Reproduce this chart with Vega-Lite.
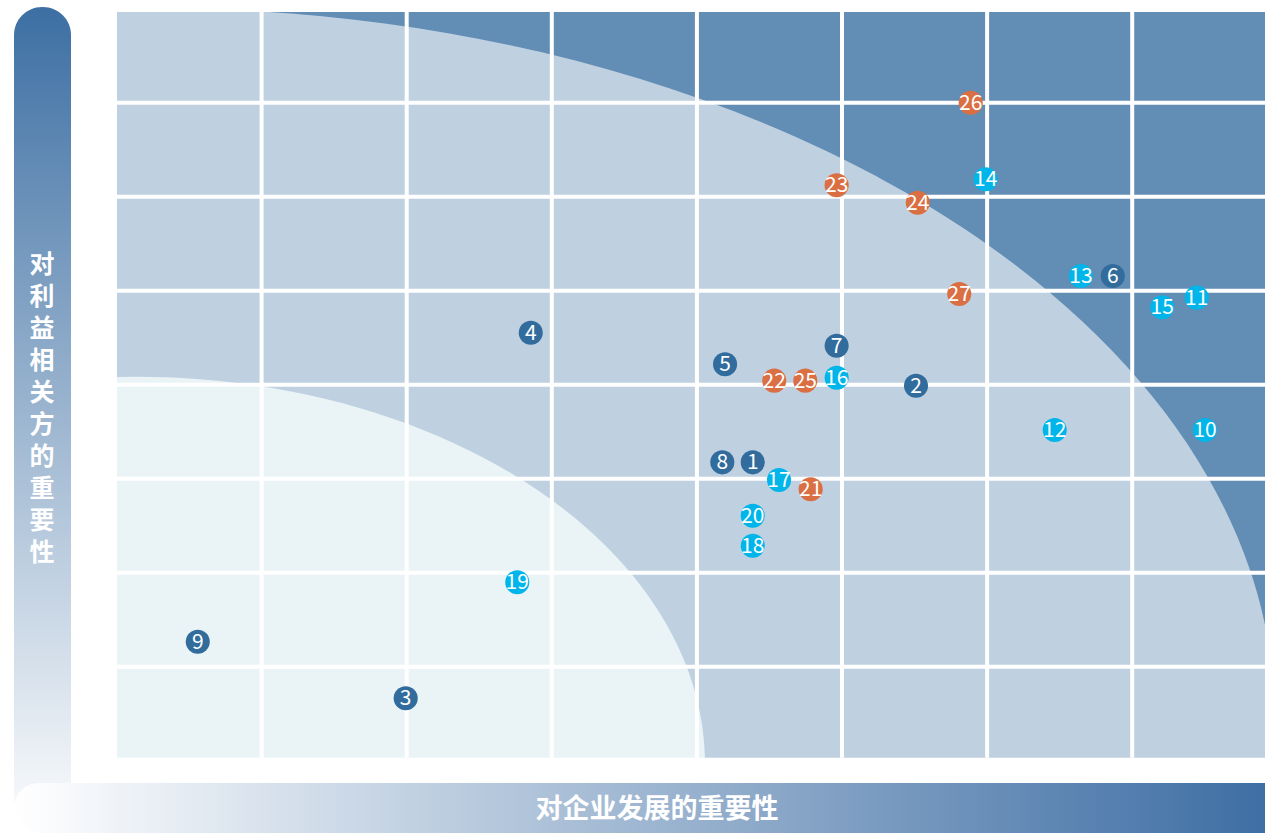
{
  "$schema": "https://vega.github.io/schema/vega-lite/v6.json",
  "width": 1265,
  "height": 833,
  "autosize": {"type": "none"},
  "padding": 0,
  "background": "white",
  "config": {"view": {"stroke": null}},
  "layer": [
    {
      "data": {"values": [{}]},
      "mark": {"type": "rect", "color": "#628db4"},
      "encoding": {
        "x": {"datum": 0.0034, "type": "quantitative", "scale": {"domain": [-0.8029, 7.9152], "nice": false, "zero": false}, "axis": null},
        "x2": {"datum": 8.3},
        "y": {"datum": 0.032, "type": "quantitative", "scale": {"domain": [-0.7692, 8.0926], "nice": false, "zero": false}, "axis": null},
        "y2": {"datum": 7.965}
      }
    },
    {
      "data": {"values": [{}]},
      "mark": {
        "type": "point", "filled": true, "opacity": 1, "color": "#bfd0e0", "strokeWidth": 0,
        "size": 5062500,
        "shape": "M-1,0C-1,-0.3495,-0.5523,-0.6329,0,-0.6329C0.5523,-0.6329,1,-0.3495,1,0C1,0.3495,0.5523,0.6329,0,0.6329C-0.5523,0.6329,-1,0.3495,-1,0Z"
      },
      "encoding": {"x": {"datum": 0.2309, "type": "quantitative"}, "y": {"datum": 0.433, "type": "quantitative"}}
    },
    {
      "data": {"values": [{}]},
      "mark": {
        "type": "point", "filled": true, "opacity": 1, "color": "#eaf4f6", "strokeWidth": 0,
        "size": 1299600,
        "shape": "M-1,0C-1,-0.3763,-0.5523,-0.6813,0,-0.6813C0.5523,-0.6813,1,-0.3763,1,0C1,0.3763,0.5523,0.6813,0,0.6813C-0.5523,0.6813,-1,0.3763,-1,0Z"
      },
      "encoding": {"x": {"datum": 0.1275, "type": "quantitative"}, "y": {"datum": -0.0457, "type": "quantitative"}}
    },
    {
      "data": {"values": [{}]},
      "mark": {"type": "rect", "color": "white"},
      "encoding": {"x": {"datum": -0.9, "type": "quantitative"}, "x2": {"datum": 0.0034}, "y": {"datum": -1, "type": "quantitative"}, "y2": {"datum": 8.3}}
    },
    {
      "data": {"values": [{}]},
      "mark": {"type": "rect", "color": "white"},
      "encoding": {"x": {"datum": -0.9, "type": "quantitative"}, "x2": {"datum": 8.3}, "y": {"datum": 7.965, "type": "quantitative"}, "y2": {"datum": 8.3}}
    },
    {
      "data": {"values": [{}]},
      "mark": {"type": "rect", "color": "white"},
      "encoding": {"x": {"datum": -0.9, "type": "quantitative"}, "x2": {"datum": 8.3}, "y": {"datum": -1, "type": "quantitative"}, "y2": {"datum": 0.032}}
    },
    {
      "data": {"values": [{"g": 1}, {"g": 2}, {"g": 3}, {"g": 4}, {"g": 5}, {"g": 6}, {"g": 7}]},
      "mark": {"type": "rule", "color": "white", "strokeWidth": 4},
      "encoding": {
        "x": {"field": "g", "type": "quantitative"},
        "y": {"datum": 0.032, "type": "quantitative"}, "y2": {"datum": 7.985}
      }
    },
    {
      "data": {"values": [{"g": 1}, {"g": 2}, {"g": 3}, {"g": 4}, {"g": 5}, {"g": 6}, {"g": 7}]},
      "mark": {"type": "rule", "color": "white", "strokeWidth": 4},
      "encoding": {
        "y": {"field": "g", "type": "quantitative"},
        "x": {"datum": 0.0034, "type": "quantitative"}, "x2": {"datum": 8.3}
      }
    },
    {
      "data": {
        "values": [
          {"id": 1, "group": "A", "dev": 4.385, "stake": 3.174},
          {"id": 2, "group": "A", "dev": 5.51, "stake": 3.989},
          {"id": 3, "group": "A", "dev": 1.993, "stake": 0.664},
          {"id": 4, "group": "A", "dev": 2.855, "stake": 4.553},
          {"id": 5, "group": "A", "dev": 4.194, "stake": 4.217},
          {"id": 6, "group": "A", "dev": 6.866, "stake": 5.156},
          {"id": 7, "group": "A", "dev": 4.963, "stake": 4.415},
          {"id": 8, "group": "A", "dev": 4.175, "stake": 3.174},
          {"id": 9, "group": "A", "dev": 0.56, "stake": 1.266},
          {"id": 10, "group": "B", "dev": 7.502, "stake": 3.518},
          {"id": 11, "group": "B", "dev": 7.445, "stake": 4.926},
          {"id": 12, "group": "B", "dev": 6.466, "stake": 3.518},
          {"id": 13, "group": "B", "dev": 6.647, "stake": 5.156},
          {"id": 14, "group": "B", "dev": 5.99, "stake": 6.185},
          {"id": 15, "group": "B", "dev": 7.207, "stake": 4.823},
          {"id": 16, "group": "B", "dev": 4.963, "stake": 4.074},
          {"id": 17, "group": "B", "dev": 4.566, "stake": 2.986},
          {"id": 18, "group": "B", "dev": 4.385, "stake": 2.287},
          {"id": 19, "group": "B", "dev": 2.762, "stake": 1.898},
          {"id": 20, "group": "B", "dev": 4.385, "stake": 2.606},
          {"id": 21, "group": "C", "dev": 4.784, "stake": 2.887},
          {"id": 22, "group": "C", "dev": 4.533, "stake": 4.043},
          {"id": 23, "group": "C", "dev": 4.963, "stake": 6.121},
          {"id": 24, "group": "C", "dev": 5.522, "stake": 5.936},
          {"id": 25, "group": "C", "dev": 4.747, "stake": 4.043},
          {"id": 26, "group": "C", "dev": 5.887, "stake": 7.0},
          {"id": 27, "group": "C", "dev": 5.808, "stake": 4.965}
        ]
      },
      "encoding": {
        "x": {"field": "dev", "type": "quantitative"},
        "y": {"field": "stake", "type": "quantitative"}
      },
      "layer": [
        {
          "mark": {"type": "circle", "size": 580, "opacity": 1},
          "encoding": {
            "color": {
              "field": "group", "type": "nominal",
              "scale": {"domain": ["A", "B", "C"], "range": ["#316c9d", "#00b5e9", "#da6f43"]},
              "legend": null
            }
          }
        },
        {
          "mark": {"type": "text", "color": "white", "font": "Noto Sans CJK SC", "fontSize": 21, "align": "center", "baseline": "middle", "dy": 1},
          "encoding": {"text": {"field": "id", "type": "nominal"}}
        }
      ]
    },
    {
      "data": {"values": [{}]},
      "mark": {
        "type": "rect", "cornerRadius": 28,
        "color": {"gradient": "linear", "x1": 0, "y1": 0, "x2": 0, "y2": 1,
          "stops": [{"offset": 0, "color": "#3d6fa3"}, {"offset": 0.95, "color": "#f3f6f9"}, {"offset": 1, "color": "#ffffff"}]}
      },
      "encoding": {"x": {"datum": -0.7064, "type": "quantitative"}, "x2": {"datum": -0.3135}, "y": {"datum": 8.018, "type": "quantitative"}, "y2": {"datum": -0.77}}
    },
    {
      "data": {"values": [{}]},
      "mark": {
        "type": "rect", "cornerRadius": 25,
        "color": {"gradient": "linear", "x1": 0, "y1": 0, "x2": 1, "y2": 0,
          "stops": [{"offset": 0, "color": "#ffffff"}, {"offset": 0.97, "color": "#3e6ea4"}, {"offset": 1, "color": "#3c6ca2"}]}
      },
      "encoding": {"x": {"datum": -0.7064, "type": "quantitative"}, "x2": {"datum": 8.2}, "y": {"datum": -0.237, "type": "quantitative"}, "y2": {"datum": -0.77}}
    },
    {
      "data": {"values": [{"t": "对\n利\n益\n相\n关\n方\n的\n重\n要\n性"}]},
      "mark": {"type": "text", "color": "white", "font": "Noto Sans CJK SC", "fontWeight": "bold", "fontSize": 25, "lineHeight": 32, "lineBreak": "\n", "align": "center", "baseline": "middle"},
      "encoding": {"x": {"datum": -0.513, "type": "quantitative"}, "y": {"datum": 5.273, "type": "quantitative"}, "text": {"field": "t"}}
    },
    {
      "data": {"values": [{"t": "对企业发展的重要性"}]},
      "mark": {"type": "text", "color": "white", "font": "Noto Sans CJK SC", "fontWeight": "bold", "fontSize": 27, "align": "center", "baseline": "middle"},
      "encoding": {"x": {"datum": 3.725, "type": "quantitative"}, "y": {"datum": -0.524, "type": "quantitative"}, "text": {"field": "t"}}
    }
  ]
}
